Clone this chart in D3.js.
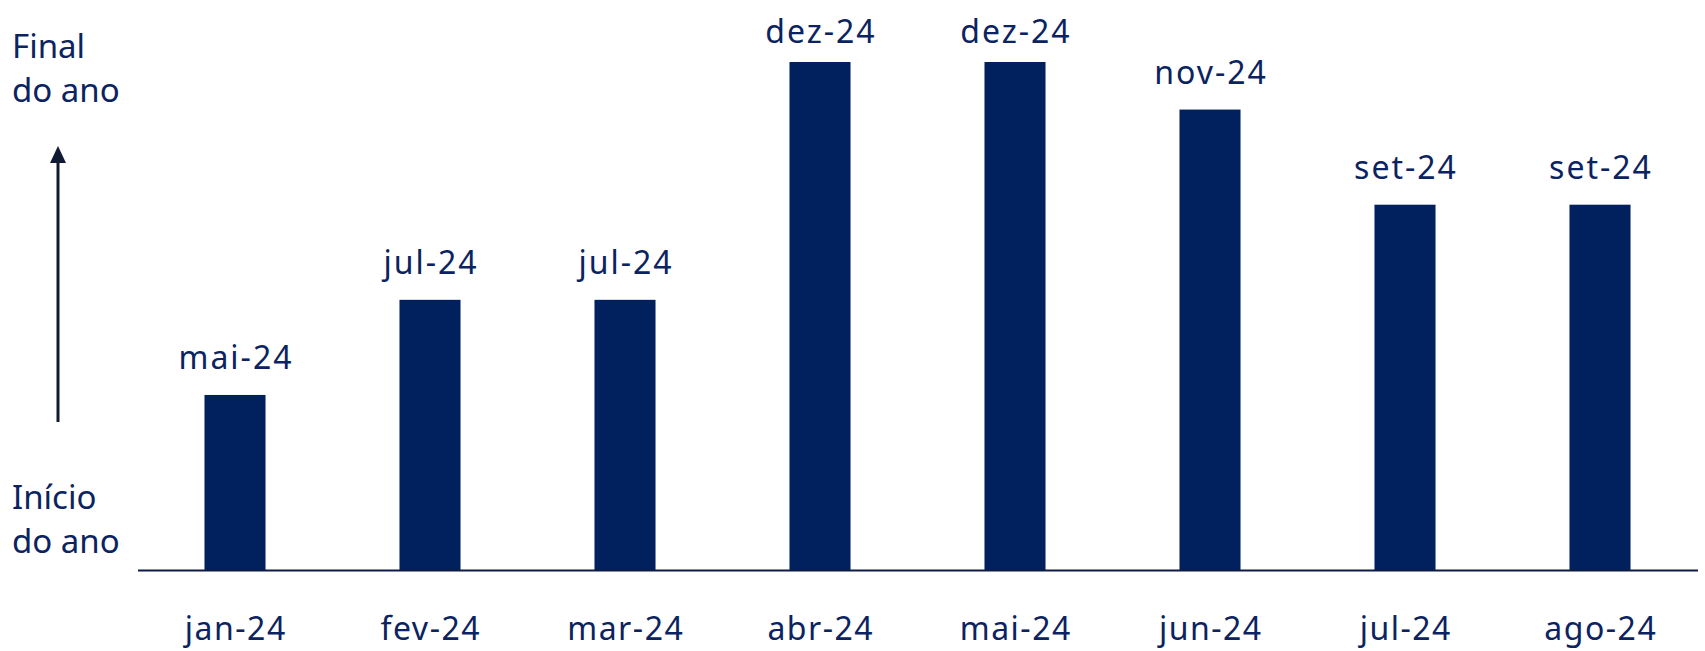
<!DOCTYPE html>
<html>
<head>
<meta charset="utf-8">
<script src="https://cdn.jsdelivr.net/npm/d3@7"></script>
<style>
  body { margin: 0; background: #fff; }
  svg text { font-family: "Noto Sans", "Open Sans", sans-serif; fill: #0b2360; }
</style>
</head>
<body>
<svg id="chart" width="1705" height="651"></svg>
<script>
// months on the x axis
const categories = ["jan-24", "fev-24", "mar-24", "abr-24", "mai-24", "jun-24", "jul-24", "ago-24"];
// month reached (1 = jan ... 12 = dez)
const values = [5, 7, 7, 12, 12, 11, 9, 9];
// label shown above each bar
const barLabels = ["mai-24", "jul-24", "jul-24", "dez-24", "dez-24", "nov-24", "set-24", "set-24"];

const svg = d3.select("#chart");
const baseY = 570;

// band scale for the months
const x = d3.scaleBand()
    .domain(categories)
    .range([137.5, 1697.5])
    .paddingInner(0.687)
    .paddingOuter(0.3435);

// vertical scale in months
const y = d3.scaleLinear()
    .domain([1.32, 12])
    .range([baseY, 62]);

// bars
svg.selectAll("rect.bar")
    .data(values)
    .enter()
    .append("rect").attr("class", "bar")
    .attr("x", function (d, i) { return x(categories[i]); })
    .attr("width", x.bandwidth())
    .attr("y", function (d) { return y(d); })
    .attr("height", function (d) { return baseY - y(d); })
    .style("fill", "#00205e");

// labels above bars (letter-spacing adds trailing space, so nudge by half)
svg.selectAll("text.val")
    .data(values)
    .enter()
    .append("text").attr("class", "val")
    .attr("x", function (d, i) { return x(categories[i]) + x.bandwidth() / 2 + 1; })
    .attr("y", function (d) { return Math.max(y(d) - 26, 43); })
    .attr("text-anchor", "middle")
    .style("font-size", "32px")
    .style("letter-spacing", "2px")
    .text(function (d, i) { return barLabels[i]; });

// x axis
const axis = svg.append("g")
    .attr("transform", "translate(0," + baseY + ")")
    .call(d3.axisBottom(x).tickSize(0).tickPadding(47));
axis.select(".domain").attr("stroke", "#0e1c45").attr("stroke-width", 2);
axis.selectAll("text")
    .style("font-size", "32px")
    .style("letter-spacing", "1.5px")
    .style("font-family", "'Noto Sans', 'Open Sans', sans-serif")
    .attr("fill", "#0b2360")
    .attr("dx", "0.75px");

// arrow on the left
svg.append("line")
    .attr("x1", 58).attr("x2", 58)
    .attr("y1", 422).attr("y2", 160)
    .attr("stroke", "#111a33").attr("stroke-width", 3);
svg.append("path")
    .attr("d", "M50,163 L58,146 L66,163 Z")
    .attr("fill", "#111a33");

// side labels
const sideLabels = [["Final", 58], ["do ano", 102], ["Início", 509], ["do ano", 553]];
svg.selectAll("text.side")
    .data(sideLabels)
    .enter()
    .append("text").attr("class", "side")
    .attr("x", 12)
    .attr("y", function (d) { return d[1]; })
    .style("font-size", "33px")
    .text(function (d) { return d[0]; });
</script>
</body>
</html>
